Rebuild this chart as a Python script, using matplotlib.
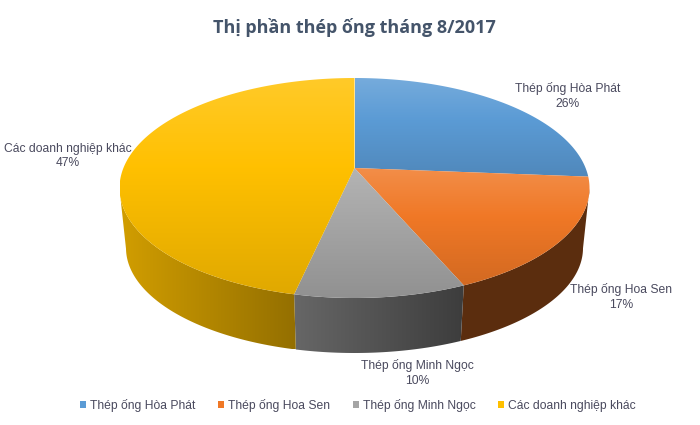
#!/usr/bin/env python
import numpy as np
import matplotlib
matplotlib.use('Agg')
import matplotlib.pyplot as plt
from matplotlib.patches import Polygon, Patch
from matplotlib.colors import to_rgb

#--Data--
title = 'Thị phần thép ống tháng 8/2017'
categories = ['Thép ống Hòa Phát', 'Thép ống Hoa Sen', 'Thép ống Minh Ngọc', 'Các doanh nghiệp khác']
# shares, labels are the rounded value
shares = [26.3, 17.3, 9.9, 46.6]

#--Style--
colors = ['#5B9BD5', '#F07826', '#A5A5A5', '#FFC000']
side_left = [0.40, 0.38, 0.62, 0.82]
side_right = [0.40, 0.38, 0.37, 0.58]
label_pos = [(568, 96), (621, 297), (417, 373), (68, 156)]
text_color = '#4A4A5E'

#--Pie geometry in pixels--
cx = 354.5
top_cy, top_rx, top_ry = 188, 235, 110
bot_cy, bot_rx, bot_ry = 248, 228.5, 105
apex_k = 20 / 110.0  # apex sits above the ellipse centre (perspective)


def rim(t):
    #t = clockwise angle from 12 o'clock on the untilted circle
    x, y = np.sin(t), np.cos(t)
    d = 1 + apex_k * y
    return x * np.sqrt(1 - apex_k ** 2) / d, (y + apex_k) / d


def gradient(ax, verts, img, extent):
    clip = Polygon(verts, closed=True, transform=ax.transData)
    im = ax.imshow(img, extent=extent, aspect='auto', interpolation='bilinear', zorder=2)
    im.set_clip_path(clip)
    return im


fig = plt.figure(figsize=(7, 4.25), dpi=100)
ax = fig.add_axes([0, 0, 1, 1])

fracs = np.array(shares) / sum(shares)
edges = np.concatenate([[0], np.cumsum(fracs)]) * 2 * np.pi
apex = (cx, top_cy - apex_k * top_ry)

#Sides first, the top covers whatever is behind
for i, c in enumerate(colors):
    t = np.linspace(edges[i], edges[i + 1], 300)
    X, Y = rim(t)
    front = Y < 0
    if not front.any():
        continue
    X, Y = X[front], Y[front]
    upper = np.column_stack([cx + top_rx * X, top_cy - top_ry * Y])
    lower = np.column_stack([cx + bot_rx * X, bot_cy - bot_ry * Y])
    verts = np.vstack([upper, lower[::-1]])
    x0, x1 = verts[:, 0].min(), verts[:, 0].max()
    base = np.array(to_rgb(c))
    f = np.linspace(side_left[i], side_right[i], 64)
    img = np.clip(f[None, :, None] * base[None, None, :], 0, 1)
    gradient(ax, verts, img, (x0, x1, verts[:, 1].max(), verts[:, 1].min()))

#Top face of each slice: lighter at the top, darker at the bottom
for i, c in enumerate(colors):
    t = np.linspace(edges[i], edges[i + 1], 200)
    X, Y = rim(t)
    verts = np.vstack([[apex], np.column_stack([cx + top_rx * X, top_cy - top_ry * Y])])
    y0, y1 = verts[:, 1].min(), verts[:, 1].max()
    base = np.array(to_rgb(c))
    s = np.linspace(0, 1, 64)
    light = base + (1 - base) * 0.16
    dark = base * 0.88
    img = np.where((s < 0.42)[:, None],
                   light + (base - light) * (s / 0.42)[:, None],
                   base + (dark - base) * ((s - 0.42) / 0.58)[:, None])
    img = img[:, None, :]
    gradient(ax, verts, img, (verts[:, 0].min(), verts[:, 0].max(), y1, y0))

#Data labels
for name, share, (lx, ly) in zip(categories, shares, label_pos):
    ax.text(lx, ly, '{0}\n{1}%'.format(name, int(share + 0.5)), ha='center', va='center',
            fontsize=8.7, family='Liberation Sans', color=text_color, linespacing=1.3, zorder=3)

ax.text(354.5, 27, title, ha='center', va='center', fontsize=13.0, fontweight='bold',
        family='Open Sans', color='#44546A')

handles = [Patch(facecolor=c, label=n) for c, n in zip(colors, categories)]
ax.legend(handles=handles, ncol=4, loc='center', bbox_to_anchor=(358 / 700.0, 1 - 405 / 425.0),
          frameon=False, handlelength=0.5, handleheight=0.55, handletextpad=0.3, columnspacing=1.9,
          prop={'family': 'Liberation Sans', 'size': 8.7}, labelcolor=text_color)

ax.set_xlim(0, 700)
ax.set_ylim(425, 0)
ax.axis('off')
fig.savefig('out.png', dpi=100, facecolor='white')
